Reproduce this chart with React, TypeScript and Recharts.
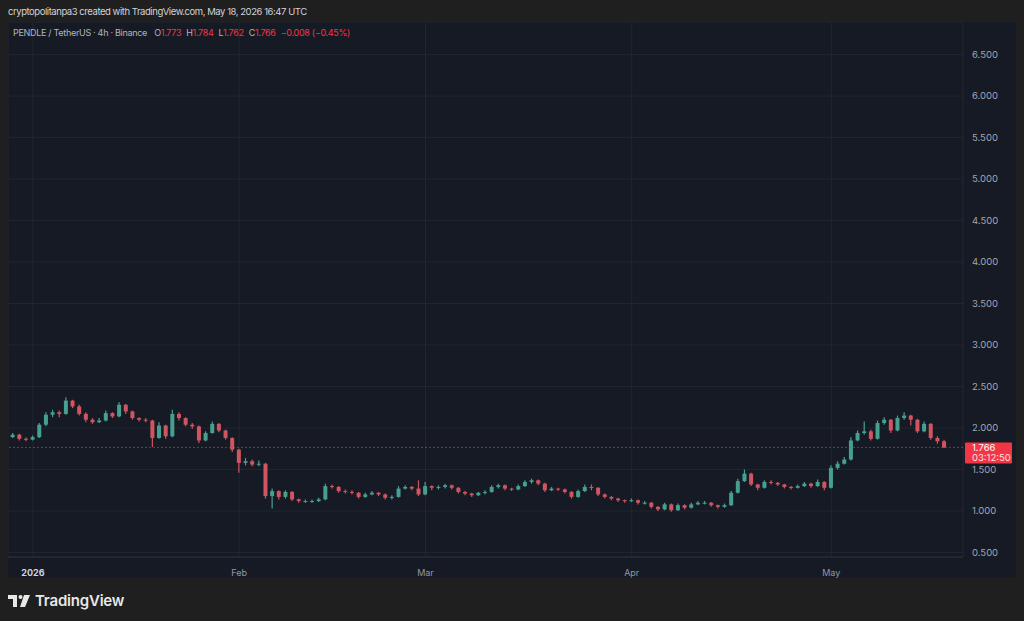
import React from "react";
import { Bar, CartesianGrid, ComposedChart, ReferenceLine, XAxis, YAxis } from "recharts";

// daily candles, day 0 = Dec 28 2025, open of each day = previous close
const firstOpen = 1.88;
const closes = [
  1.89, 1.92, 1.87, 1.86, 1.89, 2.04, 2.16, 2.19, 2.17, 2.33,
  2.26, 2.17, 2.1, 2.07, 2.09, 2.18, 2.14, 2.28, 2.2, 2.12,
  2.1, 2.09, 1.88, 2.03, 1.9, 2.17, 2.12, 2.04, 2.02, 1.85,
  1.94, 2.05, 1.97, 1.88, 1.74, 1.58, 1.6, 1.56, 1.57, 1.18,
  1.24, 1.17, 1.23, 1.14, 1.12, 1.12, 1.12, 1.14, 1.3, 1.29,
  1.24, 1.23, 1.22, 1.17, 1.2, 1.22, 1.2, 1.16, 1.17, 1.27,
  1.29, 1.27, 1.2, 1.3, 1.28, 1.29, 1.31, 1.28, 1.23, 1.21,
  1.19, 1.22, 1.23, 1.29, 1.31, 1.27, 1.26, 1.3, 1.35, 1.37,
  1.33, 1.25, 1.27, 1.26, 1.23, 1.17, 1.24, 1.29, 1.28, 1.2,
  1.17, 1.15, 1.13, 1.12, 1.13, 1.1, 1.1, 1.05, 1.02, 1.08,
  1.01, 1.07, 1.04, 1.08, 1.1, 1.1, 1.07, 1.05, 1.07, 1.22,
  1.36, 1.45, 1.32, 1.28, 1.35, 1.34, 1.32, 1.29, 1.28, 1.3,
  1.33, 1.3, 1.35, 1.28, 1.52, 1.57, 1.62, 1.85, 1.94, 1.96,
  1.87, 2.06, 2.1, 1.97, 2.12, 2.15, 2.1, 1.96, 2.05, 1.88,
  1.84, 1.766,
];
const highs = [
  1.92, 1.94, 1.93, 1.89, 1.91, 2.06, 2.19, 2.22, 2.21, 2.37,
  2.34, 2.28, 2.19, 2.12, 2.12, 2.21, 2.19, 2.31, 2.29, 2.21,
  2.13, 2.12, 2.1, 2.07, 2.04, 2.22, 2.19, 2.13, 2.06, 2.03,
  1.96, 2.08, 2.06, 1.98, 1.89, 1.75, 1.64, 1.62, 1.61, 1.58,
  1.27, 1.25, 1.25, 1.24, 1.15, 1.14, 1.14, 1.16, 1.33, 1.32,
  1.3, 1.26, 1.25, 1.23, 1.22, 1.24, 1.23, 1.21, 1.19, 1.3,
  1.31, 1.3, 1.37, 1.35, 1.31, 1.31, 1.33, 1.32, 1.29, 1.24,
  1.22, 1.23, 1.25, 1.31, 1.33, 1.32, 1.28, 1.32, 1.37, 1.39,
  1.38, 1.34, 1.29, 1.28, 1.27, 1.24, 1.26, 1.32, 1.32, 1.29,
  1.21, 1.18, 1.16, 1.14, 1.15, 1.14, 1.12, 1.11, 1.06, 1.1,
  1.09, 1.09, 1.08, 1.1, 1.12, 1.12, 1.11, 1.08, 1.09, 1.24,
  1.39, 1.5, 1.46, 1.33, 1.37, 1.37, 1.35, 1.33, 1.3, 1.32,
  1.35, 1.34, 1.38, 1.36, 1.55, 1.6, 1.65, 1.89, 1.97, 2.08,
  1.98, 2.09, 2.13, 2.11, 2.15, 2.19, 2.16, 2.11, 2.08, 2.06,
  1.9, 1.86,
];
const lows = [
  1.86, 1.88, 1.85, 1.84, 1.85, 1.88, 2.02, 2.13, 2.13, 2.16,
  2.24, 2.15, 2.07, 2.05, 2.06, 2.08, 2.12, 2.13, 2.17, 2.1,
  2.08, 2.07, 1.77, 1.87, 1.87, 1.89, 2.09, 2.02, 1.99, 1.82,
  1.84, 1.93, 1.95, 1.86, 1.71, 1.46, 1.55, 1.54, 1.54, 1.15,
  1.03, 1.14, 1.15, 1.12, 1.1, 1.1, 1.1, 1.11, 1.13, 1.27,
  1.22, 1.21, 1.2, 1.15, 1.16, 1.19, 1.18, 1.14, 1.14, 1.16,
  1.26, 1.25, 1.18, 1.19, 1.25, 1.26, 1.27, 1.26, 1.21, 1.19,
  1.17, 1.18, 1.2, 1.22, 1.27, 1.25, 1.24, 1.25, 1.29, 1.33,
  1.31, 1.23, 1.24, 1.24, 1.21, 1.15, 1.16, 1.23, 1.25, 1.18,
  1.15, 1.13, 1.11, 1.1, 1.11, 1.08, 1.08, 1.03, 1.0, 1.01,
  0.99, 1.0, 1.02, 1.03, 1.07, 1.08, 1.05, 1.03, 1.04, 1.06,
  1.21, 1.35, 1.3, 1.25, 1.27, 1.32, 1.3, 1.27, 1.26, 1.27,
  1.29, 1.28, 1.29, 1.25, 1.27, 1.5, 1.56, 1.61, 1.84, 1.92,
  1.85, 1.86, 2.04, 1.94, 1.96, 2.1, 2.03, 1.94, 1.95, 1.86,
  1.81, 1.76,
];

const monthTicks = [4, 35, 63, 94, 124];
const monthLabels = ["2026", "Feb", "Mar", "Apr", "May"];
const priceTicks = [0.5, 1, 1.5, 2, 2.5, 3, 3.5, 4, 4.5, 5, 5.5, 6, 6.5];
const lastPrice = 1.766;
const countdown = "03:12:50";
const ohlcLabels = ["O", "H", "L", "C"];
const ohlcValues = ["1.773", "1.784", "1.762", "1.766"];
const change = "\u22120.008 (\u22120.45%)";

const UP = "#45a090";
const DOWN = "#cf5560";
const FONT = "Inter, Roboto, 'Noto Sans', sans-serif";

const candles = closes.map((c, i) => ({
  day: i,
  open: i === 0 ? firstOpen : closes[i - 1],
  close: c,
  high: highs[i],
  low: lows[i],
}));

function Candle(props: any) {
  const { x, y, width, height, payload } = props;
  if (x == null || y == null) return null;
  const { open, close, high, low } = payload;
  const top = Math.min(y, y + height);
  const h = Math.abs(height);
  const perUnit = h / (high - low || 1);
  const cx = x + width / 2;
  const bodyTop = top + (high - Math.max(open, close)) * perUnit;
  const bodyH = Math.max(1, Math.abs(close - open) * perUnit);
  const color = close >= open ? UP : DOWN;
  return (
    <g>
      <line x1={cx} x2={cx} y1={top} y2={top + h} stroke={color} strokeWidth={1.2} />
      <rect x={cx - 2} y={bodyTop} width={4} height={bodyH} fill={color} />
    </g>
  );
}

function MonthTick(props: any) {
  const { x, y, payload } = props;
  const i = monthTicks.indexOf(payload.value);
  const first = i === 0;
  return (
    <text x={x} y={y} dy={9} textAnchor="middle" fontSize={9} fontFamily={FONT}
      fontWeight={first ? 700 : 400} fill={first ? "#d1d4dc" : "#9598a1"}>
      {monthLabels[i]}
    </text>
  );
}

function PriceBadge(props: any) {
  const { viewBox } = props;
  if (!viewBox) return null;
  const bx = viewBox.x + viewBox.width + 2;
  const by = viewBox.y - 5;
  return (
    <g>
      <rect x={bx} y={by} width={47} height={21} rx={1} fill="#f23645" />
      <text x={bx + 7} y={by + 9} fontSize={9.5} fill="#ffffff" fontFamily={FONT}>{lastPrice.toFixed(3)}</text>
      <text x={bx + 7} y={by + 18.5} fontSize={9.5} fill="#ffe1e4" fontFamily={FONT}>{countdown}</text>
    </g>
  );
}

export default function App() {
  return (
    <div style={{ position: "fixed", left: 0, top: 0, width: 1024, height: 621, background: "#1f1f1f", fontFamily: FONT, overflow: "hidden" }}>
      <div style={{ position: "absolute", left: 8, top: 6, fontSize: 9.5, letterSpacing: -0.45, color: "#d1d4dc", whiteSpace: "nowrap" }}>
        cryptopolitanpa3 created with TradingView.com, May 18, 2026 16:47 UTC
      </div>
      <div style={{ position: "absolute", left: 8, top: 22, width: 1008, height: 556, background: "#161a24" }}>
        <ComposedChart width={1008} height={556} data={candles} margin={{ top: 0, right: 0, bottom: 0, left: 0 }}>
          <CartesianGrid stroke="#222632" />
          <XAxis type="number" dataKey="day" domain={[0.25, 143.8]} allowDataOverflow ticks={monthTicks}
            tick={<MonthTick />} tickLine={false} axisLine={{ stroke: "#2a2e39" }} height={21} tickMargin={4} />
          <YAxis orientation="right" domain={[0.446, 6.892]} allowDataOverflow ticks={priceTicks} width={53}
            tickFormatter={(v: number) => v.toFixed(3)} tickLine={false} axisLine={false} tickMargin={3}
            tick={{ fill: "#a3a6af", fontSize: 9.5, fontFamily: FONT, textAnchor: "start" }} />
          <ReferenceLine y={lastPrice} stroke="#f23645" strokeOpacity={0.6} strokeDasharray="2 2" label={<PriceBadge />} />
          <Bar dataKey={(d: any) => [d.low, d.high]} barSize={4} shape={<Candle />} isAnimationActive={false} />
        </ComposedChart>
        <div style={{ position: "absolute", left: 5, top: 5, fontSize: 9, letterSpacing: -0.3, color: "#b2b5be", whiteSpace: "nowrap" }}>
          PENDLE / TetherUS · 4h · Binance{" "}
          {ohlcLabels.map((l, i) => (
            <span key={l} style={{ marginLeft: 5 }}>
              {l}<span style={{ color: "#f23645" }}>{ohlcValues[i]}</span>
            </span>
          ))}
          <span style={{ color: "#f23645", marginLeft: 5 }}>{change}</span>
        </div>
      </div>
      <div style={{ position: "absolute", left: 8, top: 591, display: "flex", alignItems: "center", color: "#e8e8e8" }}>
        <svg width={24} height={14} viewBox="0 0 24 14">
          <path d="M0 1h9v12H5V5H0z" fill="#e8e8e8" />
          <circle cx={12.5} cy={3} r={2} fill="#e8e8e8" />
          <path d="M16 1h6l-5 12h-5z" fill="#e8e8e8" />
        </svg>
        <span style={{ fontSize: 15, fontWeight: 600, marginLeft: 3, letterSpacing: -0.2 }}>TradingView</span>
      </div>
    </div>
  );
}
